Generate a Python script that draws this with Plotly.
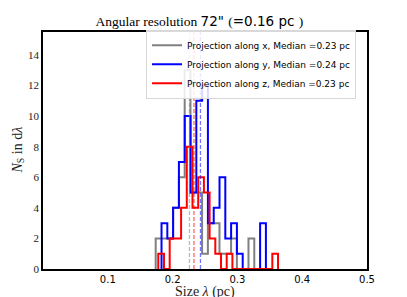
import plotly.graph_objects as go

# ---- data ----
series_names = ["Projection along x, Median =0.23 pc",
                "Projection along y, Median =0.24 pc",
                "Projection along z, Median =0.23 pc"]
bin_start_x = 0.1739
bin_start_y = 0.1829
bin_start_z = 0.1779
bin_width_x = 0.00895
bin_width_y = 0.00895
bin_width_z = 0.0088
counts_x = [2, 2, 2, 4, 6, 13, 5, 5, 1, 3, 3, 1, 1, 2, 0, 0, 2]
counts_y = [3, 2, 4, 7, 10, 5, 11, 12, 3, 4, 6, 2, 3, 1, 0, 0, 0, 3]
counts_z = [1, 0, 2, 2, 4, 8, 4, 6, 5, 2, 1, 0, 1, 0, 0, 0, 0, 0, 0, 0, 1]
medians = [0.226, 0.243, 0.233]
x_ticks = [0.1, 0.2, 0.3, 0.4, 0.5]
y_ticks = [0, 2, 4, 6, 8, 10, 12, 14]

colors = ["gray", "blue", "red"]
dash_colors = ["rgba(128,128,128,0.55)", "rgba(0,0,255,0.55)", "rgba(255,0,0,0.6)"]

def step_outline(start, width, counts):
    edges = [start + width * i for i in range(len(counts) + 1)]
    xs = [edges[0]] + edges[:-1] + [edges[-1]]
    ys = [0] + list(counts) + [0]
    return xs, ys

fig = go.Figure()
for name, st, wd, cnt, col in zip(series_names,
                                  [bin_start_x, bin_start_y, bin_start_z],
                                  [bin_width_x, bin_width_y, bin_width_z],
                                  [counts_x, counts_y, counts_z], colors):
    xs, ys = step_outline(st, wd, cnt)
    fig.add_trace(go.Scatter(x=xs, y=ys, mode="lines", line_shape="hv",
                             line=dict(color=col, width=2), name=name))

YMAX = 15.5
for m, dc in zip(medians, dash_colors):
    fig.add_trace(go.Scatter(x=[m, m], y=[0, YMAX], mode="lines",
                             line=dict(color=dc, width=1.3, dash="4px,2px"),
                             showlegend=False, hoverinfo="skip"))

serif = "Liberation Serif, DejaVu Serif, serif"
sans = "DejaVu Sans, sans-serif"

fig.update_layout(
    width=407, height=297,
    margin=dict(l=43, r=40, t=32, b=25),
    plot_bgcolor="white", paper_bgcolor="white",
    title=dict(text='Angular resolution <span style="font-family:DejaVu Sans">72" </span>(<span style="font-family:DejaVu Sans">=0.16 pc </span>)',
               x=0.49, xanchor="center", y=0.93, yanchor="middle",
               font=dict(family=serif, size=13.5, color="black")),
    legend=dict(x=0.318, y=1.01, xanchor="left", yanchor="top",
                bgcolor="rgba(255,255,255,0.85)", bordercolor="#d8d8d8", borderwidth=1,
                font=dict(family=sans, size=9, color="black"),
                itemwidth=30, tracegroupgap=0),
    showlegend=True,
)
fig.update_xaxes(range=[0, 0.5], tickvals=x_ticks, ticktext=[str(t) for t in x_ticks],
                 showgrid=False, zeroline=False, showline=True, mirror=True,
                 linecolor="black", linewidth=1.5, ticks="",
                 tickfont=dict(family=sans, size=10, color="black"))
fig.update_yaxes(range=[0, YMAX], tickvals=y_ticks, ticktext=[str(t) for t in y_ticks],
                 showgrid=False, zeroline=False, showline=True, mirror=True,
                 linecolor="black", linewidth=1.5, ticks="",
                 tickfont=dict(family=serif, size=11, color="#222"))
fig.add_annotation(text="Size <i>λ</i> (pc)", xref="paper", yref="paper",
                   x=0.5, y=-0.055, xanchor="center", yanchor="top", showarrow=False,
                   font=dict(family=serif, size=14, color="#222"))
fig.add_annotation(text="<i>N</i><sub>S</sub> in d<i>λ</i>", xref="paper", yref="paper",
                   x=-0.077, y=0.5, xanchor="center", yanchor="middle", textangle=-90,
                   showarrow=False, font=dict(family=serif, size=14, color="#222"))

fig.write_html("out.html", config={"displayModeBar": False},
               post_script="document.body.style.margin='0';")
